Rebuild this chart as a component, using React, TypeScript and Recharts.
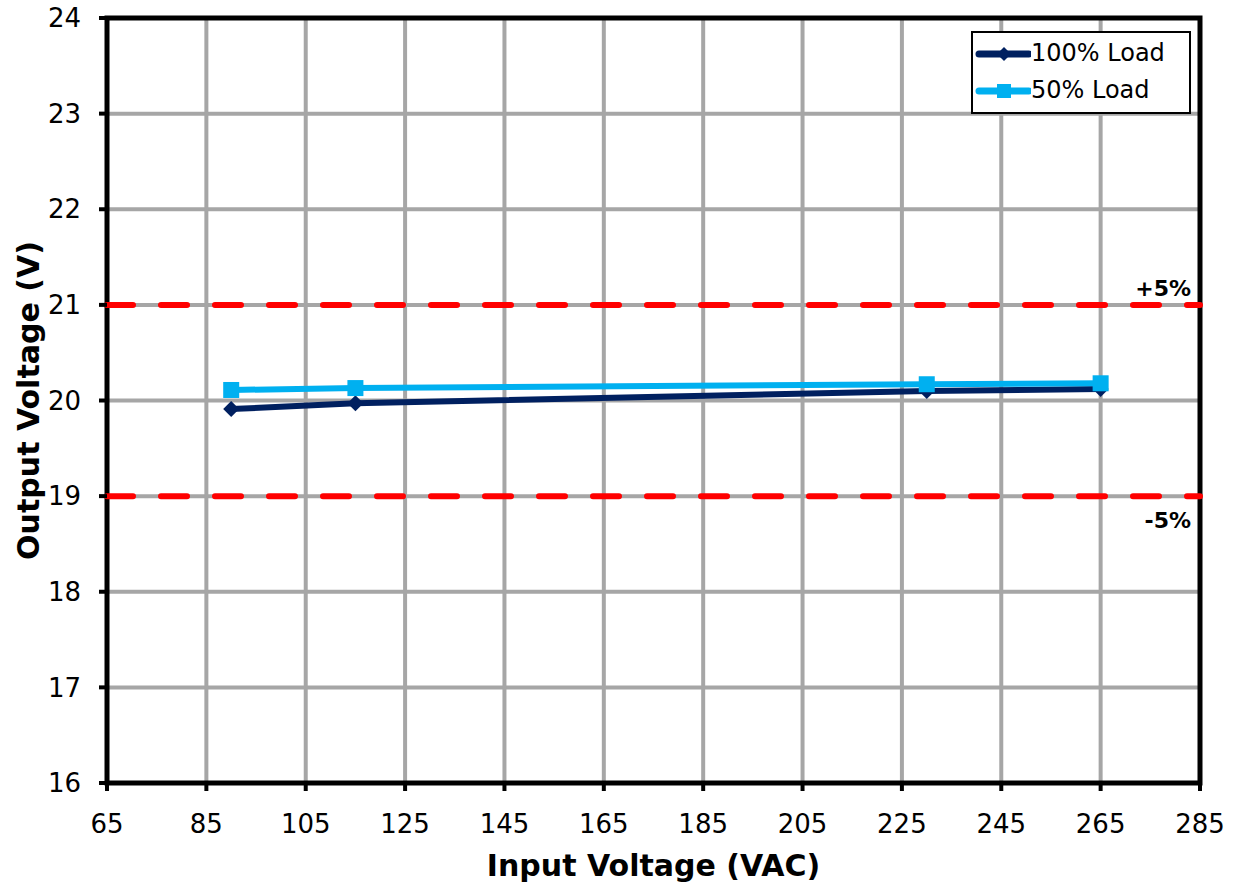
import React from 'react';
import {
  LineChart,
  Line,
  XAxis,
  YAxis,
  CartesianGrid,
  ReferenceLine,
  ReferenceArea,
  Label,
} from 'recharts';

// input voltage points (VAC)
const inputVac = [90, 115, 230, 265];
const load100 = [19.91, 19.97, 20.1, 20.12];
const load50 = [20.11, 20.13, 20.17, 20.18];

const xTicks = [65, 85, 105, 125, 145, 165, 185, 205, 225, 245, 265, 285];
const yTicks = [16, 17, 18, 19, 20, 21, 22, 23, 24];
const limits = [
  { v: 21, label: '+5%' },
  { v: 19, label: '-5%' },
];

const NAVY = '#002060';
const CYAN = '#00b0f0';
const FONT = 'Tahoma, "DejaVu Sans", Verdana, sans-serif';

const data = inputVac.map((x, i) => ({ x, l100: load100[i], l50: load50[i] }));

const Diamond = (props: any) => {
  const { cx, cy } = props;
  if (cx == null || cy == null) return null;
  const r = 8;
  return (
    <path
      d={`M${cx},${cy - r} L${cx + r},${cy} L${cx},${cy + r} L${cx - r},${cy} Z`}
      fill={NAVY}
    />
  );
};

const Square = (props: any) => {
  const { cx, cy } = props;
  if (cx == null || cy == null) return null;
  return <rect x={cx - 8} y={cy - 8} width={16} height={16} fill={CYAN} />;
};

const legendItems = [
  { name: '100% Load', color: NAVY, mark: 'd' },
  { name: '50% Load', color: CYAN, mark: 's' },
];

const LegendBox = () => (
  <div
    style={{
      position: 'absolute',
      left: 971,
      top: 31,
      width: 214,
      border: '2px solid #000',
      background: '#fff',
      padding: '2px 0 3px 2px',
      fontFamily: FONT,
      fontSize: 24,
      lineHeight: '37px',
    }}
  >
    {legendItems.map((it) => (
      <div key={it.name} style={{ display: 'flex', alignItems: 'center' }}>
        <svg width={56} height={20}>
          <line x1={4} y1={10} x2={54} y2={10} stroke={it.color} strokeWidth={7} strokeLinecap="round" />
          {it.mark === 'd' ? (
            <path d="M29,3 L36,10 L29,17 L22,10 Z" fill={it.color} />
          ) : (
            <rect x={22} y={3} width={14} height={14} fill={it.color} />
          )}
        </svg>
        <span>{it.name}</span>
      </div>
    ))}
  </div>
);

export default function App() {
  return (
    <div style={{ position: 'absolute', left: 0, top: 0 }}>
      <LineChart
        width={1239}
        height={890}
        data={data}
        margin={{ top: 18, right: 39, bottom: 0, left: 0 }}
      >
        <CartesianGrid stroke="#a6a6a6" strokeWidth={4} />
        <XAxis
          dataKey="x"
          type="number"
          domain={[65, 285]}
          ticks={xTicks}
          height={107}
          tickSize={8}
          tickMargin={24}
          axisLine={false}
          tickLine={{ stroke: '#000', strokeWidth: 4 }}
          tick={{ fill: '#000', fontSize: 26, fontFamily: FONT }}
        >
          <Label
            value="Input Voltage (VAC)"
            position="insideBottom"
            offset={14}
            style={{ fill: '#000', fontSize: 30, fontWeight: 'bold', fontFamily: FONT }}
          />
        </XAxis>
        <YAxis
          type="number"
          domain={[16, 24]}
          ticks={yTicks}
          width={107}
          tickSize={8}
          tickMargin={18}
          axisLine={false}
          tickLine={{ stroke: '#000', strokeWidth: 4 }}
          tick={{ fill: '#000', fontSize: 26, fontFamily: FONT }}
        >
          <Label
            value="Output Voltage (V)"
            angle={-90}
            position="insideLeft"
            offset={28}
            style={{ fill: '#000', fontSize: 30, fontWeight: 'bold', fontFamily: FONT, textAnchor: 'middle' }}
          />
        </YAxis>
        {limits.map((l) => (
          <ReferenceLine
            key={l.label}
            y={l.v}
            stroke="#ff0000"
            strokeWidth={6}
            strokeDasharray="26 28"
            strokeLinecap="round"
          >
            <Label
              value={l.label}
              position={l.v > 20 ? 'insideBottomRight' : 'insideTopRight'}
              offset={9}
              dy={l.v > 20 ? 0 : 7}
              style={{ fill: '#000', fontSize: 22, fontWeight: 'bold', fontFamily: FONT }}
            />
          </ReferenceLine>
        ))}
        <ReferenceArea
          x1={65}
          x2={285}
          y1={16}
          y2={24}
          fill="none"
          stroke="#000"
          strokeWidth={5}
          ifOverflow="visible"
        />
        <Line
          dataKey="l100"
          name="100% Load"
          stroke={NAVY}
          strokeWidth={6}
          dot={<Diamond />}
          activeDot={false}
          isAnimationActive={false}
        />
        <Line
          dataKey="l50"
          name="50% Load"
          stroke={CYAN}
          strokeWidth={6}
          dot={<Square />}
          activeDot={false}
          isAnimationActive={false}
        />
      </LineChart>
      <LegendBox />
    </div>
  );
}
